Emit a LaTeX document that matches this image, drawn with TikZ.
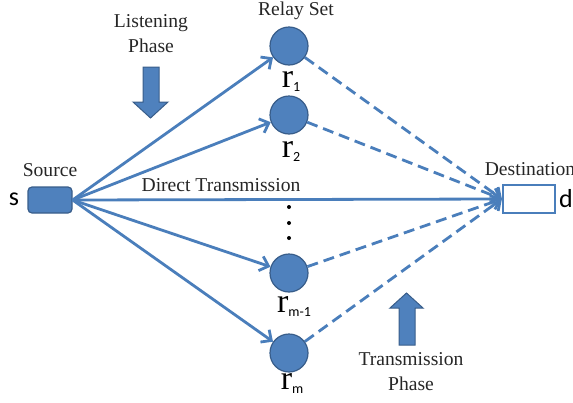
\documentclass[tikz,border=0pt]{standalone}
\usepackage{fontspec}
\setmainfont{Liberation Serif}
\newfontfamily\calfont{Carlito}
\usetikzlibrary{arrows.meta,positioning}
\definecolor{rsBlue}{HTML}{4F81BD}
\definecolor{rsEdge}{HTML}{385D8A}
\definecolor{rsLine}{HTML}{4A7EBB}
\definecolor{rsText}{HTML}{262626}
\tikzset{
  relay/.style={circle, fill=rsBlue, draw=rsEdge, line width=0.6pt, minimum size=19pt, inner sep=0pt},
  srcbox/.style={draw=rsEdge, fill=rsBlue, rounded corners=2pt, minimum width=22pt, minimum height=13pt, line width=0.6pt},
  dstbox/.style={draw=rsLine, fill=white, minimum width=26pt, minimum height=14pt, line width=1.1pt},
  lbl/.style={font=\fontsize{9.8}{12.5}\selectfont, text=rsText, align=center, inner sep=0pt},
  term/.style={font=\calfont\fontsize{13}{13}\selectfont, text=black, inner sep=0pt},
  rlabel/.style={anchor=base, inner sep=0pt, text=black},
  listen/.style={-{Straight Barb[length=4pt,width=7.5pt]}, line width=1.4pt, rsLine},
  forward/.style={listen, dash pattern=on 5.5pt off 3pt},
  phase/.style={fill=rsBlue, draw=rsEdge, line width=0.5pt},
  dot/.style={circle, fill=black, inner sep=0pt, minimum size=2pt}
}
\newcommand{\relayname}[1]{{\fontsize{17}{17}\selectfont r}\raisebox{-2pt}{\calfont\fontsize{7}{7}\selectfont #1}}

\begin{document}
\begin{tikzpicture}[x=0.5pt,y=-0.5pt]
  \useasboundingbox (0,0) rectangle (573,402);

  % source and destination
  \node[srcbox] (src) at (50,200) {};
  \node[dstbox] (dst) at (529,199) {};
  \node[lbl] (srclbl) at (50,170) {Source};
  \node[lbl] (dstlbl) at (530,169) {Destination};
  \node[term] (s) at (14,199) {s};
  \node[term] (d) at (566,199) {d};

  % relays
  \node[relay] (r1) at (289,46) {};
  \node[relay] (r2) at (289,115) {};
  \node[relay] (rm1) at (289,273) {};
  \node[relay] (rm) at (289,353) {};
  \node[rlabel] (r1lbl) at (291,87) {\relayname{1}};
  \node[rlabel] (r2lbl) at (291,157) {\relayname{2}};
  \node[rlabel] (rm1lbl) at (294,312) {\relayname{m-1}};
  \node[rlabel] (rmlbl) at (292,389) {\relayname{m}};
  \node[lbl] (relayset) at (296,11) {Relay Set};
  \foreach \y/\n in {207/a,223/b,238/c}
    \node[dot] (dot\n) at (289,\y) {};

  % listening phase
  \foreach \r in {r1,r2,rm1,rm}
    \draw[listen] (src.east) -- (\r);
  \draw[listen] (src.east) -- (dst.west);
  \node[lbl] (direct) at (221,185) {Direct Transmission};

  % transmission phase
  \foreach \r in {r1,r2,rm1,rm}
    \draw[forward] (\r) -- (dst.west);

  % phase arrows
  \node[lbl] (listenlbl) at (151,34) {Listening\\Phase};
  \draw[phase] (143,67) -- (159,67) -- (159,102) -- (168,102) -- (150.5,118)
    -- (133,102) -- (143,102) -- cycle;
  \node[lbl] (translbl) at (411,372) {Transmission\\Phase};
  \draw[phase] (399,345) -- (415,345) -- (415,308) -- (423,308) -- (406.5,293)
    -- (390,308) -- (399,308) -- cycle;
\end{tikzpicture}
\end{document}
